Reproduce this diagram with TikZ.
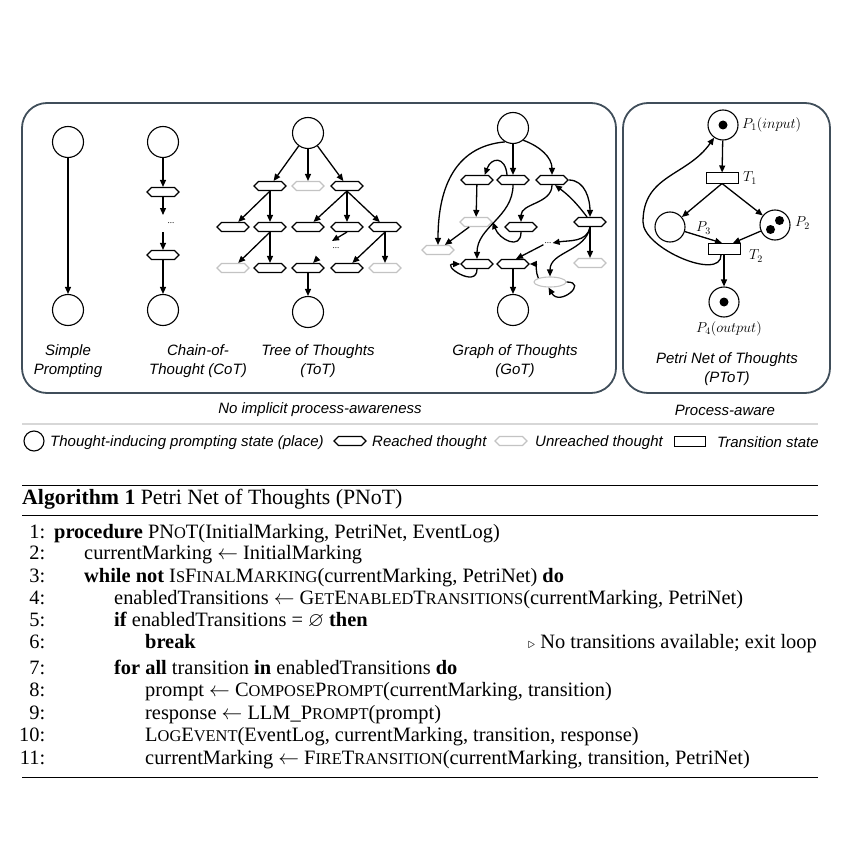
\documentclass[tikz,border=0pt]{standalone}
\usepackage{fontspec}
\usepackage{amssymb}
\setmainfont{Liberation Serif}
\newfontfamily\labfont{Liberation Sans}
\usetikzlibrary{arrows.meta,shapes.symbols,shapes.geometric}
\newcommand\smc[1]{{\fontsize{16.4}{16}\selectfont #1}}
\definecolor{boxcol}{RGB}{64,78,90}
\definecolor{ungray}{RGB}{195,195,195}
\definecolor{sepgray}{RGB}{215,215,215}
\begin{document}
\begin{tikzpicture}[x=1pt,y=1pt,
 place/.style={circle,draw,line width=1.1pt,minimum size=31pt,inner sep=0pt},
 ptplace/.style={circle,draw,line width=1.1pt,minimum size=30pt,inner sep=0pt},
 token/.style={circle,fill,inner sep=0pt,minimum size=9pt},
 hexr/.style={signal,signal to=east and west,draw,line width=1.1pt,minimum width=32pt,minimum height=9pt,inner sep=0pt},
 hexu/.style={hexr,draw=ungray},
 ellu/.style={ellipse,draw=ungray,line width=1.1pt,minimum width=32pt,minimum height=10pt,inner sep=0pt},
 trans/.style={rectangle,draw,line width=1pt,minimum width=32pt,minimum height=10pt,inner sep=0pt},
 arr/.style={-{Triangle[length=7pt,width=6pt]},line width=1.3pt},
 lbl/.style={font=\labfont\itshape\fontsize{15}{18.5}\selectfont,align=center,inner sep=0pt},
 leg/.style={font=\labfont\itshape\fontsize{15}{18}\selectfont,anchor=west,inner sep=0pt},
 mlab/.style={font=\fontsize{14.5}{16}\selectfont,inner sep=0pt},
 alg/.style={font=\fontsize{20.4}{22}\selectfont,anchor=base west,inner sep=0pt},
 num/.style={font=\fontsize{20.4}{22}\selectfont,anchor=base east,inner sep=0pt},
 dotsl/.style={font=\fontsize{9}{9}\selectfont,inner sep=1pt},
 frame/.style={draw=boxcol,line width=1.8pt,rounded corners=25pt}]
\useasboundingbox (0,0) rectangle (851,-853);
% frames
\draw[frame] (22,-103) rectangle (616,-393);
\draw[frame] (623,-103) rectangle (830,-393);
% Simple prompting
\node[place] (s0) at (68,-142) {};
\node[place] (s1) at (68,-310) {};
\draw[arr] (s0) -- (s1);
\node[lbl] (sl) at (68,-361) {Simple\\Prompting};
% CoT
\node[place] (c0) at (163,-142) {};
\node[hexr] (ch1) at (163,-192) {};
\coordinate (cd1) at (163,-215);
\node[dotsl] (cdots) at (171,-223) {...};
\coordinate (cd2) at (163,-232);
\node[hexr] (ch2) at (163,-255) {};
\node[place] (c1) at (163,-310) {};
\draw[arr] (c0) -- (ch1);
\draw[arr] (ch1) -- (cd1);
\draw[arr] (cd2) -- (ch2);
\draw[arr] (ch2) -- (c1);
\node[lbl] (cl) at (198,-361) {Chain-of-\\Thought (CoT)};
% ToT
\node[place] (t0) at (308,-133) {};
\node[hexr] (t1a) at (270,-186) {};
\node[hexu] (t1b) at (308,-186) {};
\node[hexr] (t1c) at (347,-186) {};
\node[hexr] (t2a) at (233,-227) {};
\node[hexr] (t2b) at (270,-227) {};
\node[hexr] (t2c) at (308,-227) {};
\node[hexr] (t2d) at (347,-227) {};
\node[hexr] (t2e) at (385,-227) {};
\node[hexu] (t3a) at (233,-268) {};
\node[hexr] (t3b) at (270,-268) {};
\node[hexr] (t3c) at (308,-268) {};
\node[hexr] (t3d) at (347,-268) {};
\node[hexu] (t3e) at (385,-268) {};
\node[place] (t4) at (308,-312) {};
\node[dotsl] (tdots) at (336,-248) {...};
\coordinate (td1) at (332,-241);
\coordinate (td2) at (318,-258);
\draw[arr] (t0) -- (t1a);
\draw[arr] (t0) -- (t1b);
\draw[arr] (t0) -- (t1c);
\draw[arr] (t1a.south) -- (t2a);
\draw[arr] (t1a.south) -- (t2b);
\draw[arr] (t1c.south) -- (t2c);
\draw[arr] (t1c.south) -- (t2d);
\draw[arr] (t1c.south) -- (t2e);
\draw[arr] (t2b.south) -- (t3a);
\draw[arr] (t2b.south) -- (t3b);
\draw[arr] (t2d.south) -- (td1);
\draw[arr] (td2) -- (t3c);
\draw[arr] (t2e.south) -- (t3d);
\draw[arr] (t2e.south) -- (t3e);
\draw[arr] (t3c) -- (t4);
\node[lbl] (tl) at (318,-361) {Tree of Thoughts\\(ToT)};
% GoT
\node[place] (g0) at (513,-128) {};
\node[hexr] (g1a) at (477,-180) {};
\node[hexr] (g1b) at (513,-180) {};
\node[hexr] (g1c) at (552,-180) {};
\node[hexu] (gu1) at (476,-222) {};
\node[hexr] (g2) at (521,-227) {};
\node[hexr] (g3) at (590,-222) {};
\node[hexu] (gu2) at (438,-250) {};
\node[dotsl] (gdots) at (548,-243) {...};
\node[hexr] (g4a) at (477,-264) {};
\node[hexr] (g4b) at (513,-264) {};
\node[hexu] (gu3) at (590,-263) {};
\node[ellu] (ge) at (550,-282) {};
\node[place] (g5) at (513,-310) {};
\draw[arr] (g0) -- (g1b);
\draw[arr] (g0.-50) to[out=-20,in=90] (g1c.north);
\draw[arr] (g0.-120) to[out=185,in=90,looseness=1.1] (gu2.north);
\draw[arr] ([xshift=-6pt]g1b.north) to[out=95,in=70,looseness=2.2] ([xshift=-4pt]g1a.north east);
\draw[arr] (g1a) -- (gu1);
\draw[arr] (gu1) -- (gu2);
\draw[arr] (g1b.south) to[out=-90,in=90] (g4a.north);
\draw[arr] (g1c.south) to[out=-90,in=90] (g2.north);
\draw[arr] (g1c.east) to[out=0,in=90] (g3.north);
\draw[arr] ([xshift=-3pt]g3.north) to[bend right=8] ([xshift=3pt]g1c.south);
\draw[arr] (g2.south) to[out=-90,in=-70,looseness=1.6] (gu1.east);
\draw[arr] (g3.south) to[out=-100,in=10] (gdots.east);
\draw[arr] (g3) -- (gu3);
\draw[arr] (g3.south) to[out=-100,in=90] (ge.north);
\draw[arr] (gdots.south west) -- ([xshift=3pt]g4b.north);
\draw[arr] (ge.north west) to[out=115,in=0] (g4b.east);
\draw[arr] (ge.east) to[out=0,in=-60,looseness=3] (ge.-105);
\draw[arr] (g4a.south) to[out=-90,in=180,looseness=3] (g4a.west);
\draw[arr] (g4b) -- (g5);
\node[lbl] (gl) at (515,-361) {Graph of Thoughts\\(GoT)};
% PToT
\node[ptplace] (p1) at (723,-125) {};
\node[token] (p1t) at (p1) {};
\node[trans] (tr1) at (722,-178) {};
\node[ptplace] (p3) at (670,-227) {};
\node[ptplace] (p2) at (775,-225) {};
\node[token] (p2a) at (779.5,-220.5) {};
\node[token] (p2b) at (770.5,-229.5) {};
\node[trans,minimum height=11pt] (tr2) at (724,-249) {};
\node[ptplace] (p4) at (724,-302) {};
\node[token] (p4t) at (p4) {};
\coordinate (wL) at (643,-222);
\draw[arr] (p1) -- (tr1);
\draw[arr] (tr1.south) -- (p3);
\draw[arr] (tr1.south) -- (p2);
\draw[arr] (p3) -- ([xshift=-2pt]tr2.north);
\draw[arr] (p2) -- ([xshift=9pt]tr2.north);
\draw[arr] (tr2) -- (p4);
\draw[arr] ([xshift=-3pt]tr2.south) to[out=-90,in=-90,looseness=0.8] (wL) to[out=90,in=-125,looseness=1.1] (p1.235);
\node[mlab,anchor=west] (p1l) at (742,-125) {$P_1(input)$};
\node[mlab,anchor=west] (t1l) at (743,-178) {$T_1$};
\node[mlab,anchor=west] (p3l) at (696,-228) {$P_3$};
\node[mlab,anchor=west] (p2l) at (795,-223) {$P_2$};
\node[mlab,anchor=west] (t2l) at (749,-256) {$T_2$};
\node[mlab] (p4l) at (729,-329) {$P_4(output)$};
\node[lbl] (pl) at (727,-369) {Petri Net of Thoughts\\(PToT)};
% captions under frames
\node[lbl] (cap1) at (320,-410) {No implicit process-awareness};
\node[lbl] (cap2) at (725,-410) {Process-aware};
\draw[sepgray,line width=1.4pt] (22,-424) -- (818,-424);
% legend
\node[circle,draw,line width=1.1pt,minimum size=20pt,inner sep=0pt] (lc) at (34,-441) {};
\node[leg] (lct) at (50,-442.5) {Thought-inducing prompting state (place)};
\node[hexr] (lh) at (350,-441) {};
\node[leg] (lht) at (372,-442.5) {Reached thought};
\node[hexu] (lu) at (511,-441) {};
\node[leg] (lut) at (535,-442.5) {Unreached thought};
\node[trans,minimum width=31pt] (lr) at (690,-441) {};
\node[leg] (lrt) at (717,-442.5) {Transition state};
% algorithm
\draw[line width=1.6pt] (22,-485.5) -- (818,-485.5);
\draw[line width=1pt] (22,-515) -- (818,-515);
\draw[line width=1pt] (22,-777) -- (818,-777);
\node[alg,font=\fontsize{21.8}{24}\selectfont] (atitle) at (22,-504) {\textbf{Algorithm 1} Petri Net of Thoughts (PNoT)};
\node[num] (n1) at (45.5,-538) {1:};
\node[alg] (a1) at (54,-538) {\textbf{procedure} PN\smc{O}T(InitialMarking, PetriNet, EventLog)};
\node[num] (n2) at (45.5,-559) {2:};
\node[alg] (a2) at (84,-559) {currentMarking $\leftarrow$ InitialMarking};
\node[num] (n3) at (45.5,-582) {3:};
\node[alg] (a3) at (84,-582) {\textbf{while not} I\smc{S}F\smc{INAL}M\smc{ARKING}(currentMarking, PetriNet) \textbf{do}};
\node[num] (n4) at (45.5,-604) {4:};
\node[alg] (a4) at (114,-604) {enabledTransitions $\leftarrow$ G\smc{ET}E\smc{NABLED}T\smc{RANSITIONS}(currentMarking, PetriNet)};
\node[num] (n5) at (45.5,-626) {5:};
\node[alg] (a5) at (114,-626) {\textbf{if} enabledTransitions = $\varnothing$ \textbf{then}};
\node[num] (n6) at (45.5,-648) {6:};
\node[alg] (a6) at (145,-648) {\textbf{break}};
\node[num,anchor=base east] (c6) at (817,-648) {{\fontsize{15}{15}\selectfont$\triangleright$} No transitions available; exit loop};
\node[num] (n7) at (45.5,-674) {7:};
\node[alg] (a7) at (114,-674) {\textbf{for all} transition \textbf{in} enabledTransitions \textbf{do}};
\node[num] (n8) at (45.5,-696) {8:};
\node[alg] (a8) at (145,-696) {prompt $\leftarrow$ C\smc{OMPOSE}P\smc{ROMPT}(currentMarking, transition)};
\node[num] (n9) at (45.5,-719) {9:};
\node[alg] (a9) at (145,-719) {response $\leftarrow$ LLM\_P\smc{ROMPT}(prompt)};
\node[num] (n10) at (45.5,-741) {10:};
\node[alg] (a10) at (145,-741) {L\smc{OG}E\smc{VENT}(EventLog, currentMarking, transition, response)};
\node[num] (n11) at (45.5,-764) {11:};
\node[alg] (a11) at (145,-764) {currentMarking $\leftarrow$ F\smc{IRE}T\smc{RANSITION}(currentMarking, transition, PetriNet)};
\end{tikzpicture}
\end{document}
